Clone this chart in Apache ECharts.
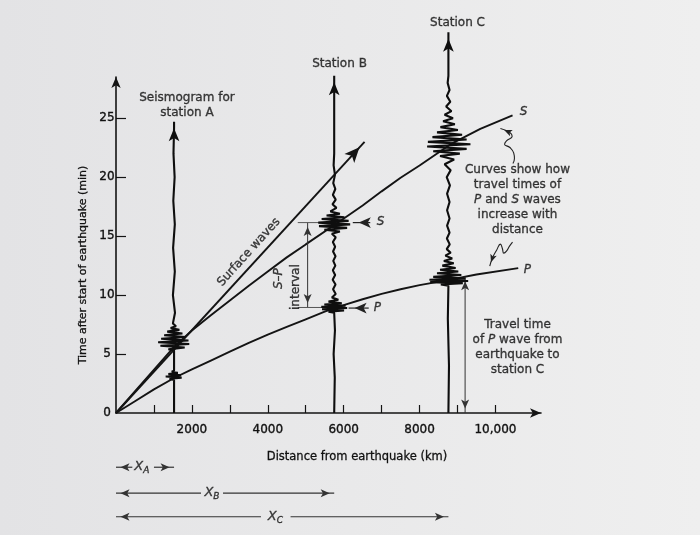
<!DOCTYPE html>
<html><head><meta charset="utf-8">
<script src="https://cdn.jsdelivr.net/npm/echarts@6/dist/echarts.min.js"></script>
<style>html,body{margin:0;padding:0;background:#ebebeb}#c{width:700px;height:535px}</style>
</head><body><div id="c"></div>
<script>
// ---------------- data ----------------
const xTicks = [1000,2000,3000,4000,5000,6000,7000,8000,9000,10000];
const xLabels = [2000,4000,6000,8000,10000];
const yTicks = [5,10,15,20,25];
const yLabels = [0,5,10,15,20,25];
const xMax = 11200, yMax = 28.5;

// travel-time curves [distance km, minutes]
const pWave = [[0,0],[500,1.0],[1000,2.0],[1530,2.97],[2000,3.7],[2500,4.45],[3000,5.2],[3500,5.95],[4000,6.65],[4500,7.3],[5000,7.95],[5500,8.6],[6000,9.15],[6500,9.65],[7000,10.1],[7500,10.5],[8000,10.85],[8740,11.27],[9500,11.75],[10600,12.29]];
const sWave = [[0,0],[1530,5.6],[2000,7.0],[2500,8.3],[3000,9.55],[3500,10.8],[4000,12.0],[4500,13.2],[5000,14.3],[5870,16.2],[6500,17.6],[7000,18.8],[7500,19.95],[8000,21.0],[8820,22.8],[9600,24.1],[10450,25.25]];
const surfaceWave = [[0,0],[6550,23.0]];

// stations
const stationNames = ['A','B','C'];
const stationDist = [1530,5750,8760];
const stationTop = [24.7,28.6,32.3];

// seismogram traces: [minutes, sideways swing in km]
const seismoA = [[0,0],[2.8,0],[2.9,-120],[3.0,200],[3.1,-220],[3.2,180],[3.3,-150],[3.4,100],[3.5,-60],[3.6,0],
  [5.3,0],[5.4,-150],[5.55,280],[5.7,-360],[5.85,400],[6.0,-420],[6.15,380],[6.3,-340],[6.45,300],[6.6,-260],[6.75,220],[6.9,-180],[7.05,140],[7.2,-90],[7.35,50],[7.6,-30],[8.5,25],[10,-30],[12,20],[14,-25],[16,20],[18,-20],[20,15],[22,-15],[24.2,0]];
const seismoB = [[0,0],[3,15],[5,-15],[7,20],[8.5,0],[8.6,-150],[8.7,260],[8.8,-320],[8.9,340],[9.0,-340],[9.1,300],[9.2,-260],[9.3,200],[9.45,-150],[9.6,110],[9.8,-60],[10.1,40],[10.5,-30],[10.9,35],[11.3,-40],[11.7,25],[12.1,-35],[12.5,30],[12.9,-25],[13.3,35],[13.7,-30],[14.1,25],[14.5,-35],[14.9,40],[15.2,-60],[15.4,150],[15.55,-260],[15.7,340],[15.85,-400],[16.0,420],[16.15,-420],[16.3,380],[16.45,-330],[16.6,270],[16.75,-200],[16.9,150],[17.1,-100],[17.4,60],[17.7,-45],[18.1,40],[18.5,-35],[19,30],[19.5,-25],[20.2,20],[21,-15],[22,0],[28.1,0]];
const seismoC = [[0,0],[4,15],[8,-15],[10.8,0],[10.9,-200],[11.0,380],[11.1,-480],[11.2,520],[11.3,-500],[11.4,450],[11.55,-400],[11.7,340],[11.85,-300],[12.0,260],[12.15,-220],[12.3,190],[12.5,-160],[12.7,140],[12.9,-120],[13.1,100],[13.35,-80],[13.6,60],[13.9,-45],[14.3,35],[14.8,-40],[15.3,30],[15.9,-35],[16.5,30],[17.2,-35],[17.9,30],[18.6,-35],[19.3,40],[20,-45],[20.6,60],[21.1,-100],[21.5,150],[21.8,-220],[22.0,300],[22.2,-400],[22.4,480],[22.6,-560],[22.8,580],[23.0,-540],[23.2,480],[23.4,-420],[23.6,360],[23.8,-300],[24.0,250],[24.25,-210],[24.5,170],[24.75,-140],[25.0,120],[25.3,-100],[25.6,80],[26.0,-60],[26.4,50],[26.9,-40],[27.4,30],[28,-20],[28.6,0],[31.7,0]];
const seismos = [seismoA, seismoB, seismoC];

// S–P interval marker at station B
const spX = 5050, spLow = 8.95, spHigh = 16.15;
const spBar = [4790, 5450];
// travel time of P to station C
const ttX = 9200, ttTop = 11.55;
// S and P pointers at station B [from, to(head)]
const sPointer = [[6700,16.15],[6240,16.15]];
const pPointer = [[6660,8.9],[6130,8.9]];
// distance arrows below the axis
const xArrowRow = [-4.6,-6.8,-8.8];
const xArrowGap = [[430,1000],[2240,2820],[3820,4600]];
// wavy pointers (head first)
const squiggleS = [[10130,24.13],[10380,23.79],[10440,23.47],[10290,23.08],[10240,22.8],[10380,22.52],[10480,22.06],[10500,21.58],[10460,21.16]];
const squiggleP = [[9850,12.46],[9920,13.14],[10030,13.81],[10130,14.32],[10180,13.98],[10220,13.56],[10290,13.73],[10370,14.15],[10450,14.49]];

// text annotations
const annoText = ['Seismogram for\nstation A','Station B','Station C','Surface waves','{i|S}–{i|P}','interval','{i|S}','{i|P}','{i|S}','{i|P}',
  'Curves show how\ntravel times of\n{i|P} and {i|S} waves\nincrease with\ndistance',
  'Travel time\nof {i|P} wave from\nearthquake to\nstation C',
  '{x|X}{s|A}','{x|X}{s|B}','{x|X}{s|C}'];
const annoX = [1870,5890,9000,3500,4290,4740,6970,6890,10740,10840,10580,10580,680,2530,4200];
const annoY = [26.1,29.6,33.05,13.64,11.4,10.68,16.19,8.9,25.5,12.1,18.05,5.6,-4.58,-6.78,-8.81];
const annoRot = [0,0,0,48,90,90,0,0,0,0,0,0,0,0,0];

// ---------------- layout / style ----------------
const W = 700, H = 535;
const G = {left:116, right:159, top:77, bottom:122};
const KX = (W - G.left - G.right) / xMax, KY = (H - G.top - G.bottom) / yMax;
const INK = '#141414', FONT = 'DejaVu Sans', TXT = '#111';
const BOLDEN = {textBorderColor: TXT, textBorderWidth: 0.35};

function dirOf(a, b){ return Math.atan2((b[1]-a[1])*KY, (b[0]-a[0])*KX) * 180 / Math.PI; }
function arrowPt(pt, dir, size){
  size = size || [7,11];
  const r = dir * Math.PI / 180, h = size[1] / 2;
  return {value: pt, symbol:'arrow', symbolSize: size, symbolRotate: dir - 90,
          symbolOffset: [-h*Math.cos(r), h*Math.sin(r)]};
}
function lineS(data, width, color, extra){
  return Object.assign({type:'line', data: data, symbol:'none', showSymbol:true, clip:false, silent:true, animation:false,
    lineStyle:{color: color||INK, width: width||1.6}, itemStyle:{color: color||INK, borderWidth:0}, z:3}, extra||{});
}
function txt(o){ return Object.assign({fontFamily:FONT, color:TXT}, BOLDEN, o); }

const series = [];
series.push(lineS(pWave, 1.9, INK));
series.push(lineS(sWave, 1.9, INK));
series.push(lineS([surfaceWave[0], arrowPt(surfaceWave[1], dirOf(surfaceWave[0], surfaceWave[1]), [10,15])], 1.9));

seismos.forEach(function(tr, i){
  const d = tr.map(function(p){ return [stationDist[i] + p[1], p[0]]; });
  d.push(arrowPt([stationDist[i], stationTop[i]], 90, [8,13]));
  series.push(lineS(d, 2.1, '#0e0e0e', {z:4}));
});

// S–P interval
series.push(lineS([arrowPt([spX, spLow], 270, [6,9]), arrowPt([spX, spHigh], 90, [6,9])], 1, '#333'));
series.push(lineS([[spBar[0], spLow],[spBar[1], spLow]], 1, '#555'));
series.push(lineS([[spBar[0], spHigh],[spBar[1], spHigh]], 1, '#555'));
// travel time arrow
series.push(lineS([arrowPt([ttX, 0], 270, [6,9]), arrowPt([ttX, ttTop], 90, [6,9])], 1, '#333'));
// S / P pointers
[sPointer, pPointer].forEach(function(pp){
  series.push(lineS([pp[0], arrowPt(pp[1], dirOf(pp[0], pp[1]), [8,12])], 1.2, '#222'));
});
// distance arrows
stationDist.forEach(function(d, i){
  const y = xArrowRow[i], g = xArrowGap[i];
  series.push(lineS([[g[0], y], arrowPt([0, y], 180, [6,9])], 1.2, '#333'));
  series.push(lineS([[g[1], y], arrowPt([d, y], 0, [6,9])], 1.2, '#333'));
});
// squiggles
[squiggleS, squiggleP].forEach(function(sq){
  const d = sq.slice(1);
  d.unshift(arrowPt(sq[0], dirOf(sq[1], sq[0]), [5,8]));
  series.push(lineS(d, 1.1, '#222', {smooth:0.5}));
});

// annotations
series.push({
  type:'scatter', clip:false, silent:true, animation:false, symbolSize:0, z:6,
  data: annoText.map(function(t, i){
    return {value:[annoX[i], annoY[i]], label:{formatter: t, rotate: annoRot[i]}};
  }),
  label:txt({show:true, position:'inside', align:'center', verticalAlign:'middle', fontSize:12, lineHeight:15,
    rich:{
      i:txt({fontStyle:'italic', fontSize:12}),
      x:txt({fontStyle:'italic', fontSize:13}),
      s:txt({fontStyle:'italic', fontSize:9, padding:[8,0,0,0]})
    }})
});

const chart = echarts.init(document.getElementById('c'), null, {renderer:'canvas', width:W, height:H});
chart.setOption({
  backgroundColor: new echarts.graphic.LinearGradient(0,0,1,0,[{offset:0,color:'#e3e3e5'},{offset:1,color:'#efefef'}]),
  animation:false,
  grid:{left:G.left, right:G.right, top:G.top, bottom:G.bottom, containLabel:false, outerBoundsMode:'none'},
  xAxis:{type:'value', min:0, max:xMax, interval:1000, splitLine:{show:false},
    axisLine:{show:true, onZero:false, symbol:['none','arrow'], symbolSize:[7,11], lineStyle:{color:INK, width:1.6}},
    axisTick:{show:true, inside:true, length:8, customValues:xTicks, lineStyle:{color:INK, width:1.2}},
    axisLabel:txt({show:true, margin:11, customValues:xLabels, fontSize:12,
      formatter:function(v){ return v >= 10000 ? String(v).replace(/(\d)(?=(\d{3})+$)/g,'$1,') : String(v); }})},
  yAxis:{type:'value', min:0, max:yMax, interval:5, splitLine:{show:false},
    axisLine:{show:true, onZero:false, symbol:['none','arrow'], symbolSize:[7,11], lineStyle:{color:INK, width:1.6}},
    axisTick:{show:true, inside:true, length:10, customValues:yTicks, lineStyle:{color:INK, width:1.2}},
    axisLabel:txt({show:true, margin:9, align:'center', customValues:yLabels, fontSize:12})},
  graphic:[
    {type:'text', x:83, y:265, rotation:Math.PI/2, style:{text:'Time after start of earthquake (min)', fontFamily:FONT, fontSize:11, fill:TXT, stroke:TXT, lineWidth:0.3, align:'center', verticalAlign:'middle'}},
    {type:'text', x:357, y:457, style:{text:'Distance from earthquake (km)', fontFamily:FONT, fontSize:11.5, fill:TXT, stroke:TXT, lineWidth:0.3, align:'center', verticalAlign:'middle'}}
  ],
  series: series
});
</script></body></html>
